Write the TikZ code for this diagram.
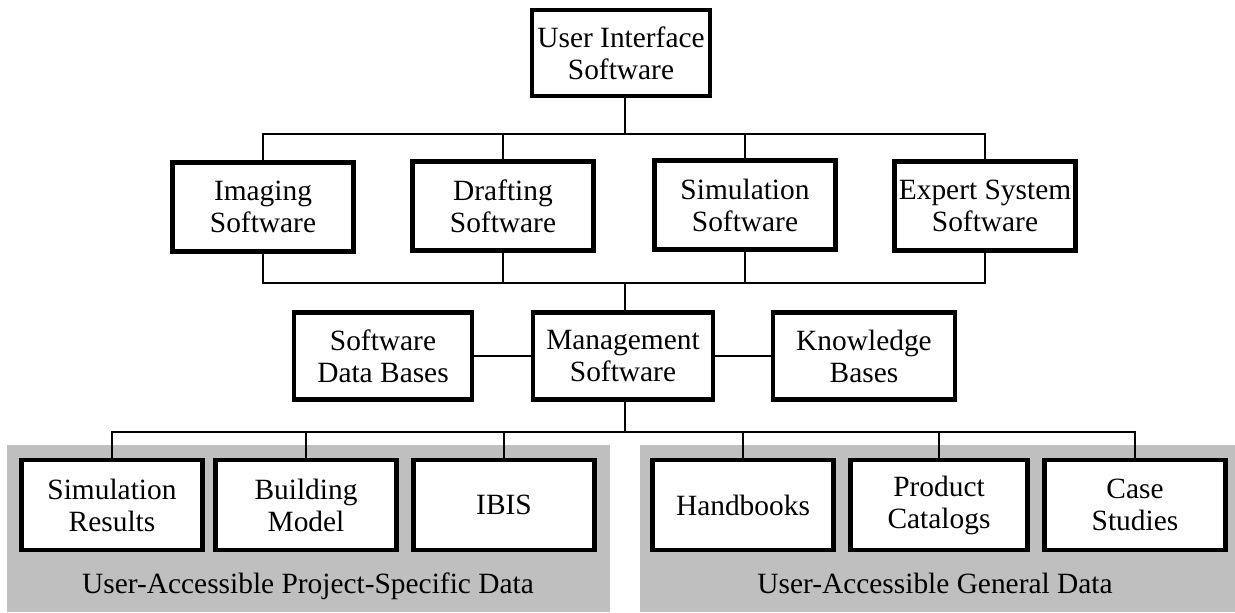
\documentclass[tikz,border=0pt]{standalone}
\usepackage{fontspec}
\setmainfont{Liberation Serif}
\usepackage{tikz}

\begin{document}
\begin{tikzpicture}[x=0.5pt, y=-0.5pt,
        box/.style={draw, line width=2.4pt, fill=white, align=center,
            inner sep=0pt, minimum width=90.5pt, minimum height=44.5pt,
            font=\fontsize{14.7}{16}\selectfont},
        link/.style={line width=1.1pt},
        shade/.style={fill=black!25},
        lbl/.style={anchor=base, font=\fontsize{14.7}{16}\selectfont}]
    \useasboundingbox (0, 0) rectangle (1235, 612);
    %灰色底纹区域
    \fill[shade] (7, 445) rectangle (610, 612);
    \fill[shade] (640, 445) rectangle (1235, 612);
    \node[lbl] (projlbl) at (308, 593) {User-Accessible Project-Specific Data};
    \node[lbl] (genlbl) at (935, 593) {User-Accessible General Data};

    %第一、二层
    \node[box, minimum width=89pt, minimum height=43pt] (ui) at (621, 53) {User Interface\\Software};
    \node[box] (img) at (263, 207) {Imaging\\Software};
    \node[box] (dft) at (503, 206) {Drafting\\Software};
    \node[box] (sim) at (745, 205) {Simulation\\Software};
    \node[box] (exp) at (985, 206) {Expert System\\Software};

    %第三层
    \node[box, minimum width=89pt, minimum height=43.5pt] (sdb) at (383, 356) {Software\\Data Bases};
    \node[box, minimum width=90pt, minimum height=43.5pt] (mgmt) at (623, 356) {Management\\Software};
    \node[box, minimum width=91pt, minimum height=43.5pt] (kb) at (864, 356) {Knowledge\\Bases};

    %第四层
    \node[box, minimum height=45pt] (simres) at (112, 505) {Simulation\\Results};
    \node[box, minimum height=45pt] (bldg) at (306, 505) {Building\\Model};
    \node[box, minimum height=45pt] (ibis) at (504, 505) {IBIS};
    \node[box, minimum height=45pt] (hb) at (743, 505) {Handbooks};
    \node[box, minimum width=88.5pt, minimum height=45pt] (pc) at (939, 505) {Product\\Catalogs};
    \node[box, minimum height=45pt] (cs) at (1135, 505) {Case\\Studies};

    %连线 (总线)
    \coordinate (busa) at (625, 134);
    \coordinate (busb) at (625, 283);
    \coordinate (busc) at (625, 432);
    \draw[link] (ui.south -| busa) -- (busa);
    \draw[link] (img.north) |- (busa) -| (exp.north);
    \draw[link] (dft.north) -- (dft.north |- busa);
    \draw[link] (sim.north) -- (sim.north |- busa);
    \draw[link] (img.south) |- (busb) -| (exp.south);
    \draw[link] (dft.south) -- (dft.south |- busb);
    \draw[link] (sim.south) -- (sim.south |- busb);
    \draw[link] (busb) -- (mgmt.north -| busb);
    \draw[link] (sdb.east) -- (mgmt.west);
    \draw[link] (mgmt.east) -- (kb.west);
    \draw[link] (mgmt.south -| busc) -- (busc);
    \draw[link] (simres.north) |- (busc) -| (cs.north);
    \draw[link] (bldg.north) -- (bldg.north |- busc);
    \draw[link] (ibis.north) -- (ibis.north |- busc);
    \draw[link] (hb.north) -- (hb.north |- busc);
    \draw[link] (pc.north) -- (pc.north |- busc);
\end{tikzpicture}
\end{document}
